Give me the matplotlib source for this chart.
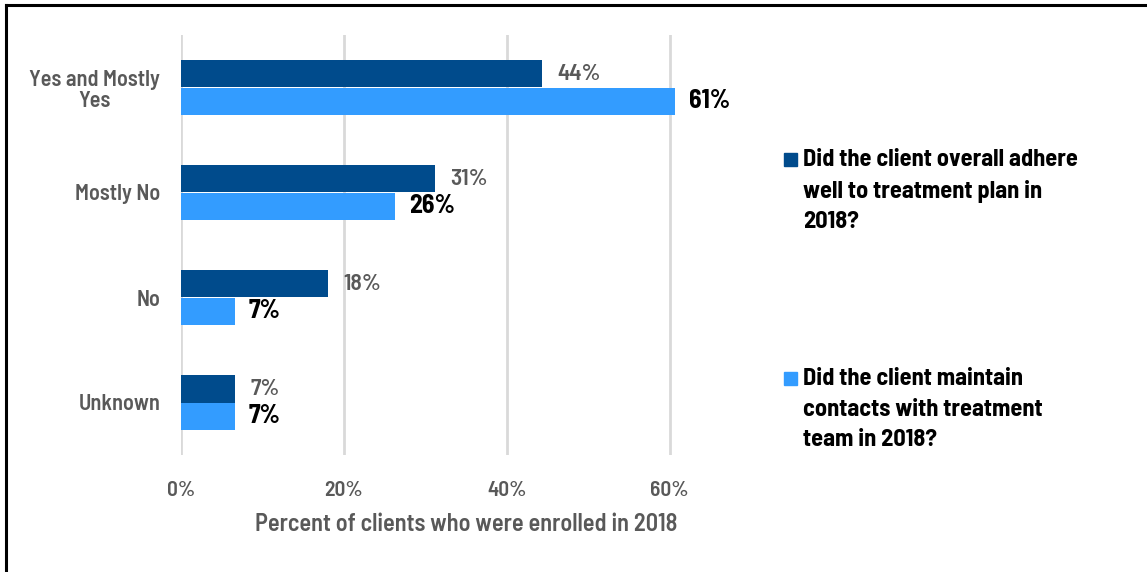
import matplotlib.pyplot as plt
from matplotlib.lines import Line2D
from matplotlib.patches import Rectangle

plt.rcParams["font.family"] = ["Barlow Semi Condensed", "Liberation Sans", "DejaVu Sans"]

categories = ["Yes and Mostly\nYes", "Mostly No", "No", "Unknown"]
adhere = [44.3, 31.2, 18.0, 6.6]
contacts = [60.7, 26.3, 6.6, 6.6]
series_names = [
    "Did the client overall adhere\nwell to treatment plan in\n2018?",
    "Did the client maintain\ncontacts with treatment\nteam in 2018?",
]
x_ticks = [0, 20, 40, 60]

DARK = "#004b8c"
LIGHT = "#339cff"
GRAY = "#595959"
TXT_W = "semibold"

fig = plt.figure(figsize=(11.47, 5.72), dpi=100)
W, H = 1147, 572
ax = fig.add_axes([181 / W, 1 - 455 / H, (751 - 181) / W, (455 - 35) / H])

ypos = list(range(len(categories)))
bh = 0.265
ax.barh([y - bh / 2 for y in ypos], adhere, height=bh, color=DARK, zorder=3)
ax.barh([y + bh / 2 for y in ypos], contacts, height=bh, color=LIGHT, zorder=3)

for y, v in zip(ypos, adhere):
    ax.annotate(f"{v:.0f}%", (v, y - bh / 2), xytext=(11, 0), textcoords="offset points",
                va="center", ha="left", fontsize=17, color=GRAY, fontweight=TXT_W)
for y, v in zip(ypos, contacts):
    ax.annotate(f"{v:.0f}%", (v, y + bh / 2), xytext=(10, 0), textcoords="offset points",
                va="center", ha="left", fontsize=18.5, color="black", fontweight="bold")

ax.set_ylim(3.5, -0.5)
ax.set_xlim(0, 70)
ax.set_yticks(ypos)
ax.set_yticklabels(categories, fontsize=16, color=GRAY, linespacing=1.1,
                   ha="right", multialignment="center", fontweight=TXT_W)
ax.set_xticks(x_ticks)
ax.set_xticklabels([f"{t}%" for t in x_ticks], fontsize=15.5, color=GRAY, fontweight=TXT_W)
ax.tick_params(length=0)
ax.tick_params(axis="x", pad=19)
ax.tick_params(axis="y", pad=15)
ax.grid(axis="x", color="#d9d9d9", linewidth=2, zorder=0)
for s in ax.spines.values():
    s.set_visible(False)
ax.set_xlabel("Percent of clients who were enrolled in 2018", fontsize=17.5, color=GRAY,
              labelpad=9, fontweight=TXT_W)

# legend: square aligned with the first line of each label
for color, name, top in zip([DARK, LIGHT], series_names, [149, 368]):
    fig.add_artist(Rectangle((784 / W, 1 - (top + 17) / H), 13 / W, 13 / H,
                             transform=fig.transFigure, color=color))
    fig.text(803 / W, 1 - top / H, name, va="top", ha="left", fontsize=17.5,
             fontweight="bold", color="black", linespacing=1.5)

# outer frame (top and left edges only)
fig.add_artist(Line2D([6 / W, 1], [1 - 5 / H, 1 - 5 / H], color="black", lw=2.2))
fig.add_artist(Line2D([6 / W, 6 / W], [0, 1 - 5 / H], color="black", lw=2.2))

fig.savefig("out.png", dpi=100)
